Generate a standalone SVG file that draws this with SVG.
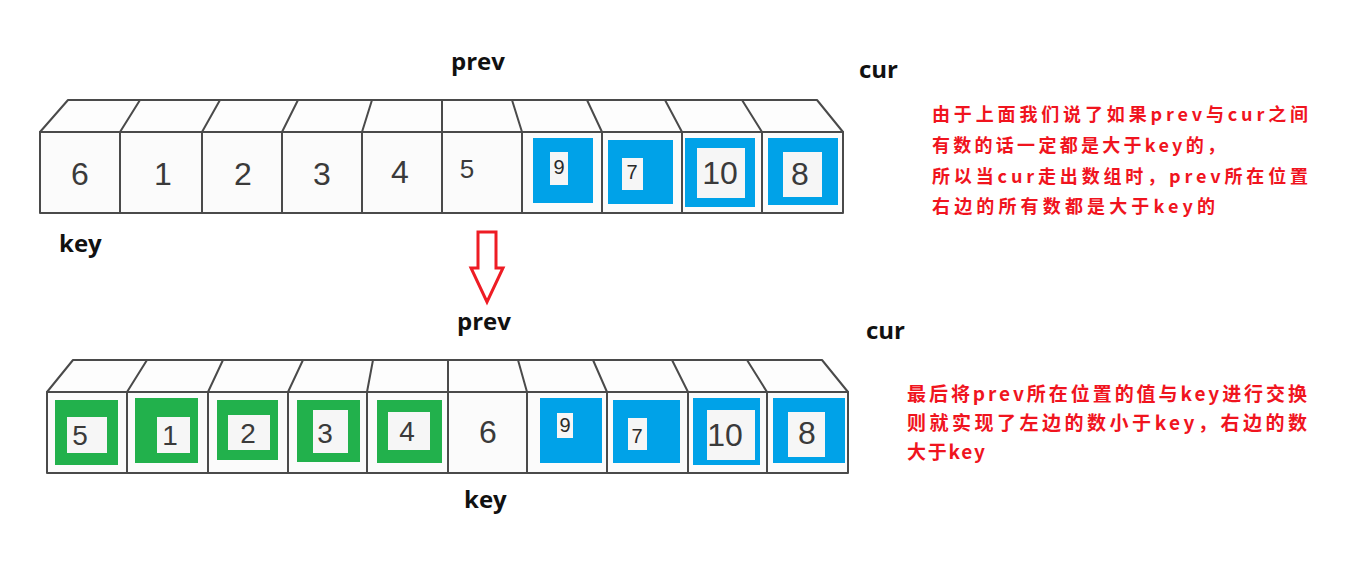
<svg xmlns="http://www.w3.org/2000/svg" width="1357" height="562" viewBox="0 0 1357 562">
<style>
.box{fill:#fbfbfb;stroke:#4a4a4a;stroke-width:2;stroke-linejoin:round}
.top{fill:#fdfdfd;stroke:#4a4a4a;stroke-width:2;stroke-linejoin:round}
.div{stroke:#4a4a4a;stroke-width:2;fill:none}
.blue{fill:#00a2e8}
.green{fill:#22b14c}
.pat{fill:#f6f6f6}
.d{font-family:"Liberation Sans",sans-serif;font-size:32px;fill:#3a3a3a;text-anchor:middle;dominant-baseline:central}
.ds{font-family:"Liberation Sans",sans-serif;font-size:20px;fill:#2a2a2a;text-anchor:middle;dominant-baseline:central}
.lbl{font-family:"Open Sans","DejaVu Sans",sans-serif;font-weight:bold;font-size:24px;fill:#111}
.note{font-family:"Noto Sans CJK SC",sans-serif;font-weight:bold;font-size:18px;fill:#f0141e}
.note2{font-family:"Noto Sans CJK SC",sans-serif;font-weight:bold;font-size:19px;fill:#f0141e}
.arrow{fill:#fff;stroke:#ee1c24;stroke-width:3;stroke-linejoin:miter}
</style>
<rect width="1357" height="562" fill="#fff"/>

<g id="array-top">
  <polygon class="top" points="40,132 68,100 817,100 843,132"/>
  <rect class="box" x="40" y="132" width="803" height="81"/>
  <path class="div" d="M120,132L140,100M202,132L220,100M282,132L298,100M362,132L372,100M442,132L442,100M522,132L512,100M602,132L587,100M682,132L665,100M762,132L742,100"/>
  <path class="div" d="M120,132V213M202,132V213M282,132V213M362,132V213M442,132V213M522,132V213M602,132V213M682,132V213M762,132V213"/>
  <rect class="blue" x="533" y="138" width="60" height="65"/>
  <rect class="pat" x="550" y="152" width="18" height="33"/>
  <rect class="blue" x="608" y="140" width="65" height="64"/>
  <rect class="pat" x="622" y="158" width="21" height="32"/>
  <rect class="blue" x="685" y="138" width="70" height="69"/>
  <rect class="pat" x="697" y="148" width="48" height="50"/>
  <rect class="blue" x="768" y="138" width="70" height="67"/>
  <rect class="pat" x="783" y="152" width="39" height="45"/>
  <text class="d" x="80" y="174">6</text>
  <text class="d" x="163" y="174">1</text>
  <text class="d" x="243" y="174">2</text>
  <text class="d" x="322" y="174">3</text>
  <text class="d" x="400" y="172">4</text>
  <text class="d" x="467" y="169" style="font-size:26px">5</text>
  <text class="ds" x="559" y="167">9</text>
  <text class="ds" x="632" y="172">7</text>
  <text class="d" x="720" y="173">10</text>
  <text class="d" x="800" y="174">8</text>
</g>

<g id="array-bottom">
  <polygon class="top" points="47,392 73,360 822,360 848,392"/>
  <rect class="box" x="47" y="392" width="801" height="81"/>
  <path class="div" d="M127,392L147,360M208,392L223,360M288,392L303,360M367,392L373,360M448,392L448,360M527,392L518,360M607,392L593,360M688,392L672,360M767,392L747,360"/>
  <path class="div" d="M127,392V473M208,392V473M288,392V473M367,392V473M448,392V473M527,392V473M607,392V473M688,392V473M767,392V473"/>
  <rect class="green" x="55" y="400" width="63" height="65"/>
  <rect class="pat" x="67" y="417" width="40" height="36"/>
  <rect class="green" x="135" y="398" width="63" height="65"/>
  <rect class="pat" x="157" y="417" width="33" height="36"/>
  <rect class="green" x="217" y="400" width="61" height="60"/>
  <rect class="pat" x="228" y="415" width="42" height="35"/>
  <rect class="green" x="297" y="400" width="63" height="62"/>
  <rect class="pat" x="313" y="410" width="35" height="43"/>
  <rect class="green" x="377" y="400" width="65" height="63"/>
  <rect class="pat" x="388" y="412" width="42" height="38"/>
  <rect class="blue" x="540" y="398" width="62" height="65"/>
  <rect class="pat" x="557" y="413" width="16" height="25"/>
  <rect class="blue" x="613" y="400" width="67" height="63"/>
  <rect class="pat" x="628" y="418" width="19" height="32"/>
  <rect class="blue" x="693" y="398" width="67" height="67"/>
  <rect class="pat" x="707" y="410" width="48" height="50"/>
  <rect class="blue" x="773" y="398" width="72" height="65"/>
  <rect class="pat" x="788" y="412" width="37" height="45"/>
  <text class="d" x="80" y="435" style="font-size:28px">5</text>
  <text class="d" x="170" y="435" style="font-size:28px">1</text>
  <text class="d" x="248" y="433" style="font-size:28px">2</text>
  <text class="d" x="325" y="433" style="font-size:28px">3</text>
  <text class="d" x="407" y="431" style="font-size:28px">4</text>
  <text class="d" x="488" y="432">6</text>
  <text class="ds" x="565" y="425">9</text>
  <text class="ds" x="637" y="436">7</text>
  <text class="d" x="725" y="435">10</text>
  <text class="d" x="807" y="433">8</text>
</g>

<g id="labels">
  <text class="lbl" x="451" y="70">prev</text>
  <text class="lbl" x="859" y="78">cur</text>
  <text class="lbl" x="59" y="252">key</text>
  <text class="lbl" x="457" y="330">prev</text>
  <text class="lbl" x="866" y="339">cur</text>
  <text class="lbl" x="464" y="508">key</text>
</g>

<g id="note-top">
  <text class="note" x="932" y="121" textLength="376" lengthAdjust="spacing">由于上面我们说了如果prev与cur之间</text>
  <text class="note" x="932" y="152" textLength="293" lengthAdjust="spacing">有数的话一定都是大于key的，</text>
  <text class="note" x="932" y="183" textLength="376" lengthAdjust="spacing">所以当cur走出数组时，prev所在位置</text>
  <text class="note" x="932" y="213" textLength="283" lengthAdjust="spacing">右边的所有数都是大于key的</text>
</g>

<g id="note-bottom">
  <text class="note2" x="907" y="401" textLength="400" lengthAdjust="spacing">最后将prev所在位置的值与key进行交换</text>
  <text class="note2" x="907" y="430" textLength="400" lengthAdjust="spacing">则就实现了左边的数小于key，右边的数</text>
  <text class="note2" x="907" y="459" textLength="78" lengthAdjust="spacing">大于key</text>
</g>

<g id="connectors">
  <polygon class="arrow" points="478,232 496,232 496,268 503,268 487,302 471,268 478,268"/>
</g>
</svg>
